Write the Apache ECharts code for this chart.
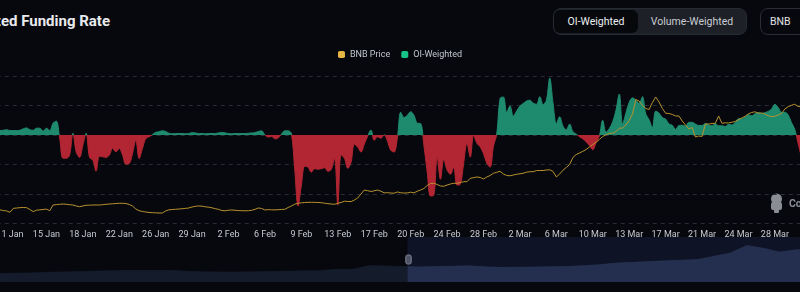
<!DOCTYPE html>
<html>
<head>
<meta charset="utf-8">
<script src="https://cdn.jsdelivr.net/npm/echarts@6/dist/echarts.min.js"></script>
<style>
  html,body{margin:0;padding:0;}
  body{width:800px;height:292px;overflow:hidden;position:relative;background:#06080d;font-family:Roboto,"Noto Sans",sans-serif;}
  #title{position:absolute;right:690px;top:11px;line-height:20px;font-size:15px;font-weight:bold;color:#e8eaed;white-space:nowrap;}
  #seg{position:absolute;left:553px;top:8px;width:194px;height:27px;box-sizing:border-box;background:#1d2026;border:1px solid #262a31;border-radius:8px;}
  #seg div{position:absolute;top:1px;height:23px;line-height:23px;text-align:center;font-size:10.5px;white-space:nowrap;}
  #seg .on{left:0;width:84px;background:#06080c;border-radius:6px;color:#eef0f2;}
  #seg .off{left:90px;width:96px;color:#c9cdd3;}
  #coin{position:absolute;left:760px;top:8px;width:70px;height:27px;box-sizing:border-box;border:1px solid #2a2e35;border-radius:8px;padding-left:9px;line-height:25px;font-size:10.5px;color:#e0e3e7;}
  #chart{position:absolute;left:-10px;top:0;width:820px;height:292px;}
</style>
</head>
<body>
<div id="title">OI-Weighted Funding Rate</div>
<div id="seg"><div class="on">OI-Weighted</div><div class="off">Volume-Weighted</div></div>
<div id="coin">BNB</div>
<div id="chart"></div>
<script>
// ---- data (8-hour points, 2024-01-10 00:00 UTC .. 2024-03-31 00:00 UTC) ----
const startTime = Date.UTC(2024, 0, 10, 0);
const stepHours = 8;
const monthNames = ['Jan','Feb','Mar','Apr','May','Jun','Jul','Aug','Sep','Oct','Nov','Dec'];

// OI-weighted funding rate (%)
const fundingRate = [
 0.0015, 0.0015, 0.0016, 0.0018, 0.0015, 0.0015, 0.0015, 0.0016, 0.0021, 0.0024,
 0.0018, 0.0016, 0.0023, 0.0023, 0.0013, 0.0023, 0.0015, 0.0040, 0.0047, -0.0011,
 -0.0079, -0.0079, -0.0068, 0.0006, -0.0058, -0.0076, -0.0035, 0.0006, -0.0075, -0.0085,
 -0.0123, -0.0072, -0.0074, -0.0076, -0.0068, -0.0045, -0.0057, -0.0046, -0.0068, -0.0099,
 -0.0097, -0.0063, -0.0018, -0.0080, -0.0046, -0.0012, -0.0006, 0.0001, 0.0009, 0.0011,
 0.0014, 0.0012, 0.0006, 0.0004, 0.0005, 0.0005, 0.0005, 0.0004, 0.0005, 0.0008,
 0.0007, 0.0005, 0.0005, 0.0004, 0.0005, 0.0005, 0.0005, 0.0007, 0.0009, 0.0007,
 0.0005, 0.0004, 0.0005, 0.0005, 0.0005, 0.0005, 0.0006, 0.0007, 0.0008, 0.0012,
 0.0014, 0.0000, -0.0007, -0.0005, -0.0013, -0.0010, 0.0003, 0.0014, 0.0014, 0.0004,
 -0.0119, -0.0241, -0.0170, -0.0106, -0.0109, -0.0126, -0.0114, -0.0116, -0.0114, -0.0111,
 -0.0123, -0.0117, -0.0079, -0.0238, -0.0068, -0.0079, -0.0113, -0.0092, -0.0031, -0.0041,
 -0.0058, -0.0031, -0.0004, 0.0017, -0.0018, -0.0006, -0.0011, 0.0001, -0.0021, -0.0052,
 -0.0058, -0.0009, 0.0077, 0.0059, 0.0067, 0.0079, 0.0067, 0.0040, 0.0039, -0.0035,
 -0.0126, -0.0207, -0.0204, -0.0075, -0.0150, -0.0082, -0.0119, -0.0133, -0.0109, -0.0170,
 -0.0167, -0.0096, -0.0028, -0.0075, 0.0000, -0.0028, -0.0040, -0.0063, -0.0096, -0.0109,
 -0.0038, 0.0003, 0.0124, 0.0129, 0.0077, 0.0098, 0.0064, 0.0081, 0.0098, 0.0107,
 0.0115, 0.0118, 0.0108, 0.0104, 0.0130, 0.0103, 0.0118, 0.0193, 0.0108, 0.0038,
 0.0062, 0.0030, 0.0018, 0.0037, 0.0011, 0.0003, -0.0006, -0.0013, -0.0023, -0.0036,
 -0.0050, -0.0026, -0.0003, 0.0050, 0.0009, 0.0022, 0.0044, 0.0084, 0.0139, 0.0037,
 0.0074, 0.0111, 0.0126, 0.0118, 0.0108, 0.0130, 0.0071, 0.0052, 0.0025, 0.0081,
 0.0074, 0.0059, 0.0054, 0.0037, 0.0033, 0.0019, 0.0032, 0.0033, 0.0030, 0.0043,
 0.0043, 0.0037, 0.0032, 0.0032, 0.0039, 0.0034, 0.0031, 0.0039, 0.0031, 0.0031,
 0.0029, 0.0036, 0.0034, 0.0042, 0.0055, 0.0055, 0.0061, 0.0069, 0.0065, 0.0072,
 0.0076, 0.0073, 0.0076, 0.0080, 0.0088, 0.0104, 0.0093, 0.0077, 0.0077, 0.0068,
 0.0042, 0.0019, -0.0028, -0.0075
];

// BNB price (USD)
const bnbPrice = [
 308, 308, 306, 305, 301, 312, 313, 314, 314.5, 314,
 309, 303, 307, 308, 309, 310, 305.6, 321.4, 322.3, 323.4,
 324.2, 323.4, 322.3, 321.4, 318.7, 316.7, 318.7, 320.6, 320.9, 321.4,
 321.4, 321.4, 322.3, 323.4, 324.2, 324.8, 325.6, 326.2, 326.2, 325.6,
 322.8, 318.7, 310.3, 305.6, 303.4, 302, 300.6, 300, 299.7, 299.2,
 299.2, 304.8, 308.1, 308.9, 309.5, 310.3, 311.1, 312, 313.1, 315.9,
 317.8, 318.7, 318.1, 316.4, 315.3, 313.6, 311.1, 309.2, 306.1, 305.3,
 307, 307.5, 306.7, 305.9, 305.6, 305.3, 305.6, 306.7, 309.5, 313.1,
 311.7, 307.5, 308.6, 308.1, 307.8, 308.4, 308.9, 309.5, 314.5, 318.7,
 323.7, 326.2, 327.5, 328.4, 328.7, 328.9, 328.7, 328.4, 327.8, 326.4,
 325, 324.2, 323.4, 326.4, 328.4, 332, 331.2, 330.9, 335.3, 340.9,
 352, 363.1, 361.2, 359, 360.9, 363.1, 359.8, 355.3, 355.6, 354.8,
 354.2, 357.6, 355.6, 354.5, 355.3, 357, 355.1, 359.8, 363.1, 367.3,
 375.6, 381.2, 381.8, 378.4, 374.3, 373.4, 377, 379.8, 381.8, 381.8,
 384, 386.2, 386.2, 395.7, 397.3, 399.3, 397.9, 393.7, 399.3, 403.4,
 409.6, 412.3, 415.1, 407.6, 403.4, 402.6, 404.8, 406.8, 408.2, 409.6,
 412.6, 414, 414, 417.1, 417.3, 417.3, 418.7, 419.3, 414.6, 399.3,
 407.6, 418.2, 425.7, 434, 453.5, 461.8, 466, 470.7, 475.7, 482.7,
 489.6, 495.7, 503.5, 511.9, 516.6, 520.8, 520.8, 525.8, 534.7, 535.5,
 543.8, 556.3, 574.4, 614.7, 610.6, 598, 589.7, 586.9, 606.4, 621.7,
 607.8, 589.7, 576.4, 575.8, 573, 568.9, 568.9, 555, 543.8, 532.7,
 536.9, 510.5, 513.3, 511.9, 546.6, 546.6, 548, 548.6, 568.9, 548.6,
 550, 549.4, 551.3, 553.6, 558.6, 563.3, 568, 575, 578.6, 580.5,
 576.6, 577.2, 574.4, 569.4, 567.2, 568, 571.6, 575.8, 588.3, 594.7,
 598.6, 601.4, 595.3, 594.7
];

// longer price history shown as the zoom-slider shadow
const sliderHistory = [
 207.5, 210.5, 215, 221, 230, 234.5, 240.5, 248, 251, 249.5,
 249.5, 252.5, 237.5, 233, 230, 230, 233, 236, 242, 246.5,
 249.5, 269, 270.5, 324.5, 315.5, 309.5, 302, 308, 312.5, 318.5,
 305, 296, 299, 300.5, 305, 309.5, 320, 335, 357.5, 368,
 380, 389, 399.5, 407, 455, 503, 609.5, 570.5, 515, 548, 552.5
];

const categories = fundingRate.map((_, i) => startTime + i * stepHours * 3600 * 1000);
const sliderCategories = sliderHistory.map((_, i) => 'p' + i);
const firstLabelIndex = 4;   // 11 Jan 08:00
const labelEvery = 11;

function fmtDate(ts) {
  const d = new Date(Number(ts));
  return d.getUTCDate() + ' ' + monthNames[d.getUTCMonth()];
}

const GREEN = '#1f8b6e';
const RED = '#b22532';
const GOLD = '#b8922f';

// grid geometry (container pixels)
const GRID_TOP = 76, GRID_BOTTOM = 68.5, CHART_H = 292;
const FR_MIN = -0.03, FR_MAX = 0.02;
const zeroOffset = FR_MAX / (FR_MAX - FR_MIN);
const signGradient = new echarts.graphic.LinearGradient(0, GRID_TOP, 0, CHART_H - GRID_BOTTOM, [
  {offset: 0, color: GREEN}, {offset: zeroOffset, color: GREEN},
  {offset: zeroOffset, color: RED}, {offset: 1, color: RED}
], true);

const chart = echarts.init(document.getElementById('chart'), null, {renderer: 'canvas'});
chart.setOption({
  backgroundColor: 'transparent',
  animation: false,
  textStyle: {fontFamily: 'Roboto'},
  legend: {
    top: 50, left: 'center', padding: 0,
    itemWidth: 7, itemHeight: 7, itemGap: 11, icon: 'roundRect',
    data: ['BNB Price', 'OI-Weighted'],
    textStyle: {color: '#c3c7ce', fontSize: 9, fontFamily: 'Roboto'}
  },
  grid: [
    {left: 6.75, right: 8.6, top: GRID_TOP, bottom: GRID_BOTTOM, containLabel: false},
    {left: 0, right: 0, top: 300, height: 10, show: false}
  ],
  xAxis: [
    {
      type: 'category', gridIndex: 0, data: categories, boundaryGap: false,
      axisLine: {show: false}, axisTick: {show: false},
      axisLabel: {
        color: '#c7cbd1', fontSize: 9, margin: 7, fontFamily: 'Roboto',
        interval: (idx) => idx >= firstLabelIndex && (idx - firstLabelIndex) % labelEvery === 0,
        formatter: (v) => fmtDate(v)
      },
      splitLine: {show: false}
    },
    {type: 'category', gridIndex: 1, data: sliderCategories, show: false, boundaryGap: false}
  ],
  yAxis: [
    {
      type: 'value', gridIndex: 0, min: FR_MIN, max: FR_MAX, interval: 0.01,
      axisLabel: {show: false}, axisLine: {show: false}, axisTick: {show: false},
      splitLine: {show: true, lineStyle: {color: '#2a2d34', type: [4, 4], width: 1}}
    },
    {
      type: 'value', gridIndex: 0, min: 270, max: 680, position: 'right',
      axisLabel: {show: false}, axisLine: {show: false}, axisTick: {show: false},
      splitLine: {show: false}
    },
    {type: 'value', gridIndex: 1, show: false, scale: true}
  ],
  dataZoom: [{
    type: 'slider', xAxisIndex: 1, filterMode: 'none',
    start: 50.61, end: 100,
    left: 0, right: 0, top: 237, height: 45,
    backgroundColor: 'transparent', borderColor: 'transparent',
    fillerColor: 'rgba(32,48,92,0.3)',
    dataBackground: {
      lineStyle: {color: '#1b2336', width: 0.5},
      areaStyle: {color: '#141b2b', opacity: 1}
    },
    selectedDataBackground: {
      lineStyle: {color: '#34405e', width: 0.5},
      areaStyle: {color: '#26304a', opacity: 1}
    },
    handleIcon: 'path://M2,0h2a2,2 0 0 1 2,2v6a2,2 0 0 1 -2,2h-2a2,2 0 0 1 -2,-2v-6a2,2 0 0 1 2,-2z',
    handleSize: '20%',
    handleStyle: {color: '#4e5464', borderColor: '#7d8392', borderWidth: 1},
    moveHandleSize: 0,
    moveHandleStyle: {opacity: 0},
    showDetail: false, brushSelect: false, zoomLock: true
  }],
  graphic: [
    {type: 'circle', shape: {cx: 786.5, cy: 199, r: 5.5}, style: {fill: '#8a8d94'}, silent: true},
    {type: 'rect', shape: {x: 781, y: 202, width: 11, height: 8, r: 2}, style: {fill: '#8a8d94'}, silent: true},
    {type: 'rect', shape: {x: 784, y: 209, width: 5, height: 4, r: 1}, style: {fill: '#8a8d94'}, silent: true},
    {type: 'text', left: 799, top: 199, silent: true,
     style: {text: 'CoinGlass', fill: '#8a8d94', fontSize: 10.5, fontWeight: 'bold', fontFamily: 'Roboto'}}
  ],
  series: [
    {
      name: 'OI-Weighted', type: 'line', xAxisIndex: 0, yAxisIndex: 0,
      data: fundingRate, smooth: 0.35, symbol: 'none',
      itemStyle: {color: '#17c387'},
      lineStyle: {width: 1, color: signGradient},
      areaStyle: {opacity: 1, color: signGradient},
      z: 2
    },
    {
      name: 'BNB Price', type: 'line', xAxisIndex: 0, yAxisIndex: 1,
      data: bnbPrice, symbol: 'none', smooth: false,
      itemStyle: {color: '#e6b543'},
      lineStyle: {width: 1, color: GOLD},
      z: 3
    },
    {
      name: 'history', type: 'line', xAxisIndex: 1, yAxisIndex: 2,
      data: sliderHistory, symbol: 'none', silent: true,
      lineStyle: {opacity: 0}, itemStyle: {opacity: 0}
    }
  ]
});
</script>
</body>
</html>
